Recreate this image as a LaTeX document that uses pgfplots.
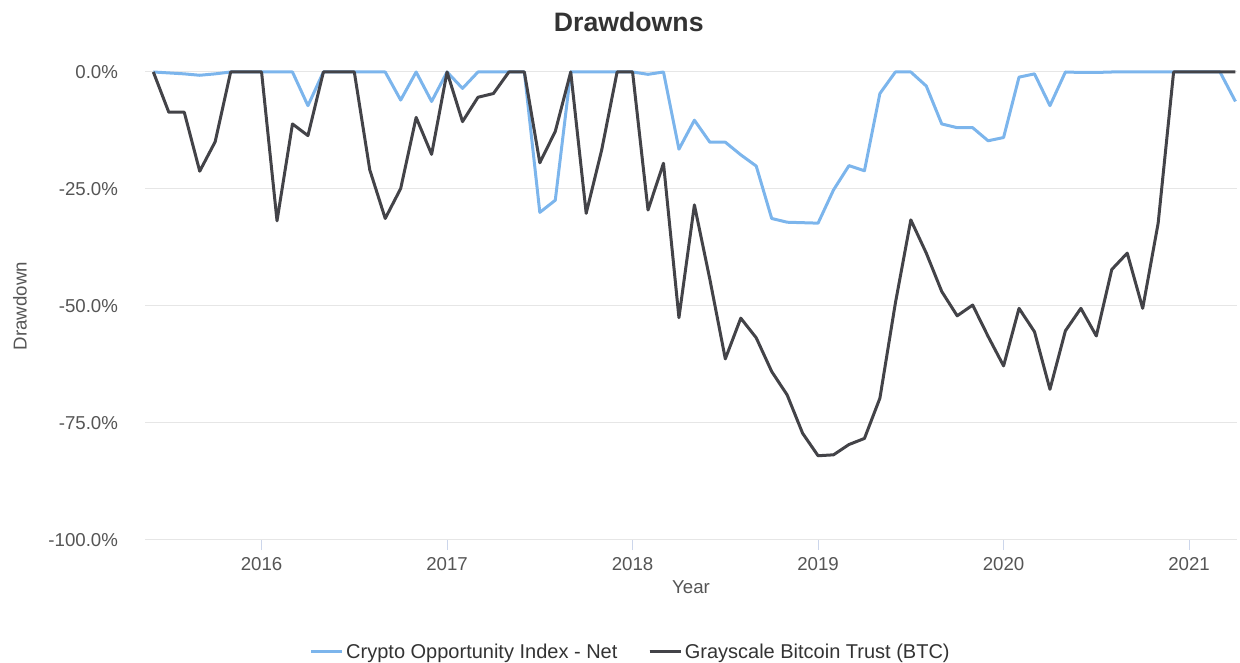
\documentclass[border=0pt]{standalone}
\usepackage{fontspec}
\setmainfont{Liberation Sans}
\usepackage{pgfplots}
\pgfplotsset{compat=1.18}
\definecolor{cix}{HTML}{7CB5EC}
\definecolor{btc}{HTML}{434348}
\definecolor{gridc}{HTML}{E6E6E6}
\definecolor{tickc}{HTML}{CCD6EB}
\definecolor{txt}{HTML}{333333}
\definecolor{lbl}{HTML}{555555}
\begin{document}
\begin{tikzpicture}
\path[use as bounding box] (0,0) rectangle (930pt,497.25pt);
\begin{axis}[
  at={(108.75pt,92.25pt)}, anchor=south west,
  width=819pt, height=351pt, scale only axis,
  xmin=-0.54, xmax=70.1, ymin=-100, ymax=0,
  clip=false,
  axis line style={draw=none},
  ymajorgrids, major grid style={draw=gridc, line width=0.75pt},
  xtick={7,19,31,43,55,67},
  xticklabels={2016,2017,2018,2019,2020,2021},
  ytick={-100,-75,-50,-25,0},
  yticklabel={\pgfmathprintnumber[fixed,fixed zerofill,precision=1]{\tick}\%},
  /pgf/number format/assume math mode=true,
  tick pos=bottom,
  xtick style={draw=tickc, line width=0.75pt},
  ytick style={draw=none},
  tick align=outside,
  major tick length=7.5pt,
  yticklabel shift=9.25pt,
  xticklabel shift=2pt,
  tick label style={font=\fontsize{14}{16}\selectfont, text=lbl},
  xlabel={Year},
  ylabel={Drawdown},
  xlabel style={at={(axis description cs:0.5,-0.1004)}, anchor=center, font=\fontsize{14}{16}\selectfont, text=lbl},
  ylabel style={at={(axis description cs:-0.1145,0.5)}, anchor=center, rotate=0, font=\fontsize{14}{16}\selectfont, text=lbl},
  title={\bfseries Drawdowns},
  title style={at={(axis description cs:0.443,1.09)}, anchor=center, font=\fontsize{20}{24}\selectfont, text=txt},
  legend columns=2,
  legend style={at={(axis description cs:0.445,-0.239)}, anchor=center, draw=none, fill=none,
    font=\fontsize{15}{18}\selectfont, text=txt,
    /tikz/every even column/.append style={column sep=21pt}},
  legend image code/.code={\draw[#1] (0pt,0pt) -- (19.5pt,0pt); \path (0pt,0pt) -- (23.25pt,0pt);},
]
\addplot[cix, line width=2.25pt, line join=round] coordinates {
(0,0) (1,-0.2) (2,-0.4) (3,-0.7) (4,-0.4) (5,0) (6,0) (7,0) (8,0) (9,0)
(10,-7.2) (11,0) (12,0) (13,0) (14,0) (15,0) (16,-6.0) (17,0) (18,-6.3) (19,0)
(20,-3.5) (21,0) (22,0) (23,0) (24,0) (25,-30.0) (26,-27.4) (27,0) (28,0) (29,0)
(30,0) (31,0) (32,-0.5) (33,0) (34,-16.5) (35,-10.3) (36,-15.0) (37,-15.0) (38,-17.7) (39,-20.1)
(40,-31.3) (41,-32.1) (42,-32.2) (43,-32.3) (44,-25.2) (45,-20.0) (46,-21.1) (47,-4.6) (48,0) (49,0)
(50,-3.0) (51,-11.1) (52,-11.9) (53,-11.9) (54,-14.7) (55,-14.0) (56,-1.1) (57,-0.4) (58,-7.2) (59,0)
(60,-0.1) (61,-0.1) (62,0) (63,0) (64,0) (65,0) (66,0) (67,0) (68,0) (69,0)
(70,-6.3)
};
\addlegendentry{Crypto Opportunity Index - Net}
\addplot[btc, line width=2.25pt, line join=round] coordinates {
(0,0) (1,-8.6) (2,-8.6) (3,-21.2) (4,-14.9) (5,0) (6,0) (7,0) (8,-31.8) (9,-11.1)
(10,-13.6) (11,0) (12,0) (13,0) (14,-20.9) (15,-31.3) (16,-24.9) (17,-9.7) (18,-17.6) (19,0)
(20,-10.6) (21,-5.4) (22,-4.6) (23,0) (24,0) (25,-19.4) (26,-12.7) (27,0) (28,-30.2) (29,-16.7)
(30,0) (31,0) (32,-29.5) (33,-19.5) (34,-52.5) (35,-28.4) (36,-44.3) (37,-61.3) (38,-52.6) (39,-56.8)
(40,-64.0) (41,-69.0) (42,-77.2) (43,-82.0) (44,-81.8) (45,-79.6) (46,-78.3) (47,-69.7) (48,-49.4) (49,-31.6)
(50,-38.7) (51,-46.9) (52,-52.1) (53,-49.8) (54,-56.5) (55,-62.8) (56,-50.5) (57,-55.5) (58,-67.8) (59,-55.3)
(60,-50.5) (61,-56.4) (62,-42.2) (63,-38.7) (64,-50.5) (65,-32.3) (66,0) (67,0) (68,0) (69,0)
(70,0)
};
\addlegendentry{Grayscale Bitcoin Trust (BTC)}
\end{axis}
\end{tikzpicture}
\end{document}
